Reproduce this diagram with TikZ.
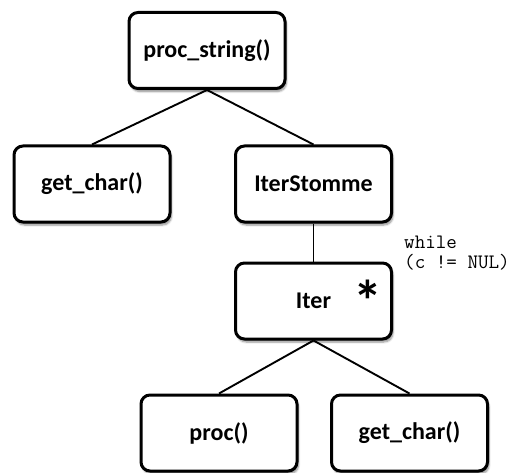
\documentclass[tikz,border=0pt]{standalone}
\usepackage{fontspec}
\setmainfont{Carlito}
\usetikzlibrary{positioning,shadows.blur}
\tikzset{
  box/.style={draw=black,line width=3pt,rounded corners=9pt,fill=white,
    minimum width=156pt,minimum height=76pt,inner sep=2pt,
    font=\fontsize{24}{26}\selectfont\bfseries,
    blur shadow={shadow xshift=1.5pt,shadow yshift=-3pt,shadow blur steps=6,shadow opacity=45}},
  ln/.style={line width=1.9pt,black},
  cond/.style={align=left,inner sep=0pt,font=\ttfamily\fontsize{20.5}{20}\selectfont}
}
\begin{document}
\begin{tikzpicture}[x=1pt,y=-1pt]
\useasboundingbox (0,0) rectangle (519,473);
\node[box] (pstr) at (207,50.5) {proc\_string()};
\node[box] (gc) at (92,184) {get\_char()};
\node[box] (stm) at (313.5,184) {IterStomme};
\node[box] (it) at (313.5,301) {Iter};
\node[box] (pr) at (219,433) {proc()};
\node[box] (gc2) at (409.5,433) {get\_char()};
\node[font=\fontsize{58}{58}\selectfont\bfseries] (star) at (368,301) {*};
\node[cond,anchor=north west] (wh) at (404,236) {while\\(c != NUL)};
\draw[ln] (pstr.south) -- (gc.north);
\draw[ln] (pstr.south) -- (stm.north);
\draw[ln] (stm.south) -- (it.north);
\draw[ln] (it.south) -- (pr.north);
\draw[ln] (it.south) -- (gc2.north);
\end{tikzpicture}
\end{document}
